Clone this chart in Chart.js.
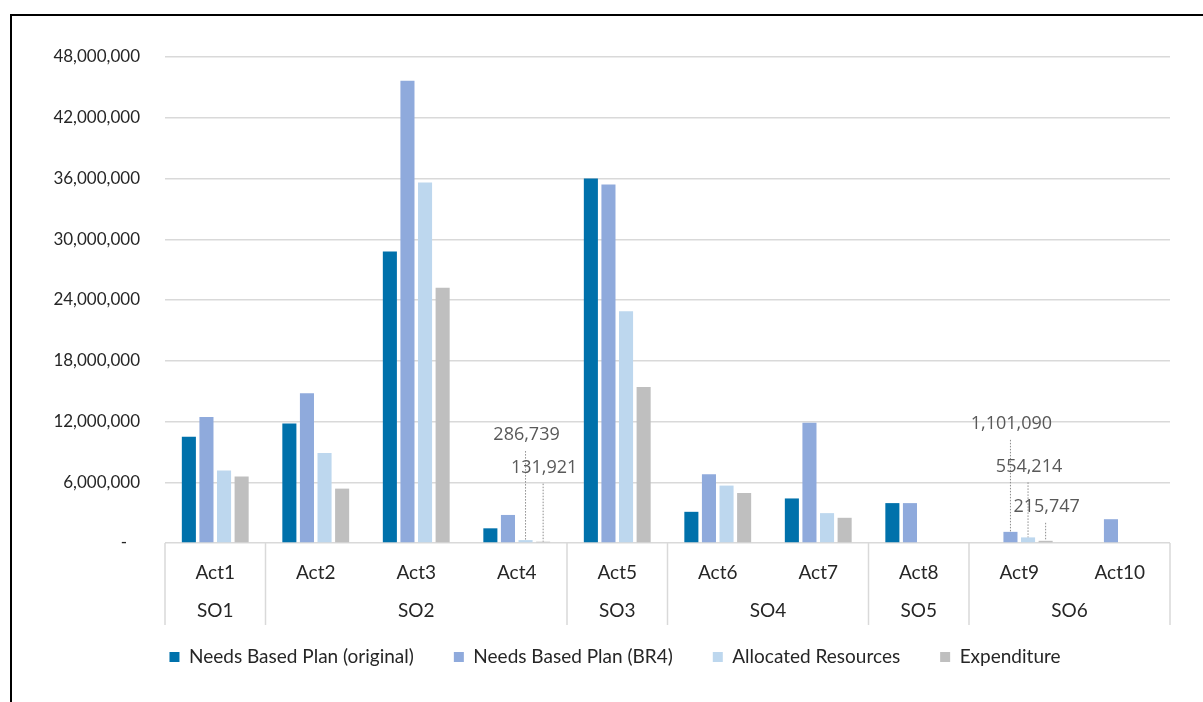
<!DOCTYPE html>
<html>
<head>
<meta charset="utf-8">
<script src="https://cdn.jsdelivr.net/npm/chart.js@4.4.0/dist/chart.umd.min.js"></script>
<style>
  body { margin: 0; background: #fff; }
  #wrap { position: absolute; left: 0; top: 0; width: 1203px; height: 702px; }
  #frame { position: absolute; left: 10px; top: 14px; width: 1220px; height: 720px; border: 2px solid #000; }
</style>
</head>
<body>
<div id="frame"></div>
<div id="wrap"><canvas id="chart"></canvas></div>
<script>
// categories
const activities = ["Act1", "Act2", "Act3", "Act4", "Act5", "Act6", "Act7", "Act8", "Act9", "Act10"];
const objectives = ["SO1", "SO2", "SO3", "SO4", "SO5", "SO6"];
// first and last activity index of each objective
const objectiveFirst = [0, 1, 4, 5, 7, 8];
const objectiveLast = [0, 3, 4, 6, 7, 9];

// series values
const needsOriginal = [10500000, 11800000, 28800000, 1450000, 36000000, 3080000, 4400000, 3940000, 0, 0];
const needsBR4 = [12440000, 14800000, 45650000, 2770000, 35400000, 6800000, 11870000, 3940000, 1101090, 2350000];
const allocated = [7160000, 8890000, 35600000, 286739, 22900000, 5670000, 2950000, 0, 554214, 0];
const expenditure = [6570000, 5370000, 25200000, 131921, 15400000, 4940000, 2490000, 0, 215747, 0];

// y axis ticks
const yMax = 48000000;
const yStep = 6000000;

// bars that get a callout label (dataset, activity)
const calloutBars = [[2, 3], [3, 3], [1, 8], [2, 8], [3, 8]];
const calloutLift = [105, 74, 108, 71, 34];

const fontName = "Lato, 'Noto Sans', sans-serif";
const fmt = (v) => v.toLocaleString("en-US");

const groupsPlugin = {
  id: "groups",
  afterLayout(chart) {
    // legend sits a bit right of centre in the original
    chart.legend.left += 30;
    chart.legend.right += 30;
  },
  afterDraw(chart) {
    const { ctx, chartArea, scales } = chart;
    const x = scales.x;
    const half = (chartArea.right - chartArea.left) / activities.length / 2;
    ctx.save();
    ctx.strokeStyle = "#d9d9d9";
    ctx.lineWidth = 1.5;
    const bottom = chartArea.bottom;
    const edges = [chartArea.left, chartArea.right];
    objectiveFirst.forEach((i) => {
      if (i > 0) edges.push(x.getPixelForValue(i) - half);
    });
    edges.forEach((px) => {
      ctx.beginPath();
      ctx.moveTo(px, bottom);
      ctx.lineTo(px, bottom + 82);
      ctx.stroke();
    });
    ctx.fillStyle = "#262626";
    ctx.font = "19px " + fontName;
    ctx.textAlign = "center";
    ctx.textBaseline = "middle";
    objectives.forEach((name, g) => {
      const cx = (x.getPixelForValue(objectiveFirst[g]) + x.getPixelForValue(objectiveLast[g])) / 2;
      ctx.fillText(name, cx, bottom + 68);
    });

    // callouts with dotted leader lines
    ctx.font = "18px 'Open Sans', sans-serif";
    ctx.fillStyle = "#595959";
    ctx.strokeStyle = "#8c8c8c";
    ctx.lineWidth = 1;
    ctx.setLineDash([1.5, 1.5]);
    calloutBars.forEach(([ds, idx], k) => {
      const bar = chart.getDatasetMeta(ds).data[idx];
      const value = chart.data.datasets[ds].data[idx];
      const ty = bar.y - calloutLift[k];
      ctx.beginPath();
      ctx.moveTo(bar.x, ty + 16);
      ctx.lineTo(bar.x, bar.y);
      ctx.stroke();
      ctx.fillText(fmt(value), bar.x + 1, ty);
    });
    ctx.restore();
  },
};

const ctx = document.getElementById("chart").getContext("2d");

new Chart(ctx, {
  type: "bar",
  data: {
    labels: activities,
    datasets: [
      { label: "Needs Based Plan (original)", data: needsOriginal, backgroundColor: "#0071AB" },
      { label: "Needs Based Plan (BR4)", data: needsBR4, backgroundColor: "#8FAADC" },
      { label: "Allocated Resources", data: allocated, backgroundColor: "#BDD7EE" },
      { label: "Expenditure", data: expenditure, backgroundColor: "#BFBFBF" },
    ],
  },
  options: {
    responsive: true,
    maintainAspectRatio: false,
    animation: false,
    devicePixelRatio: 1,
    categoryPercentage: 0.7,
    barPercentage: 0.8,
    layout: { padding: { top: 57, right: 33, bottom: 25.5, left: 0 } },
    plugins: {
      legend: {
        position: "bottom",
        labels: {
          boxWidth: 10,
          boxHeight: 10,
          padding: 40,
          color: "#262626",
          font: { family: fontName, size: 19 },
        },
      },
      tooltip: { enabled: false },
    },
    scales: {
      y: {
        min: 0,
        max: yMax,
        afterFit: (scale) => { scale.width = 165; },
        ticks: {
          stepSize: yStep,
          padding: 25,
          color: "#262626",
          font: { family: fontName, size: 17 },
          callback: (v) => (v === 0 ? "-   " : fmt(v)),
        },
        grid: { color: "#d9d9d9", lineWidth: 1.5, drawTicks: false },
        border: { display: false },
      },
      x: {
        afterFit: (scale) => { scale.height = 64.5; },
        ticks: {
          padding: 18,
          color: "#262626",
          font: { family: fontName, size: 19 },
        },
        grid: { display: false, drawTicks: false },
        border: { display: false },
      },
    },
  },
  plugins: [groupsPlugin],
});
</script>
</body>
</html>
